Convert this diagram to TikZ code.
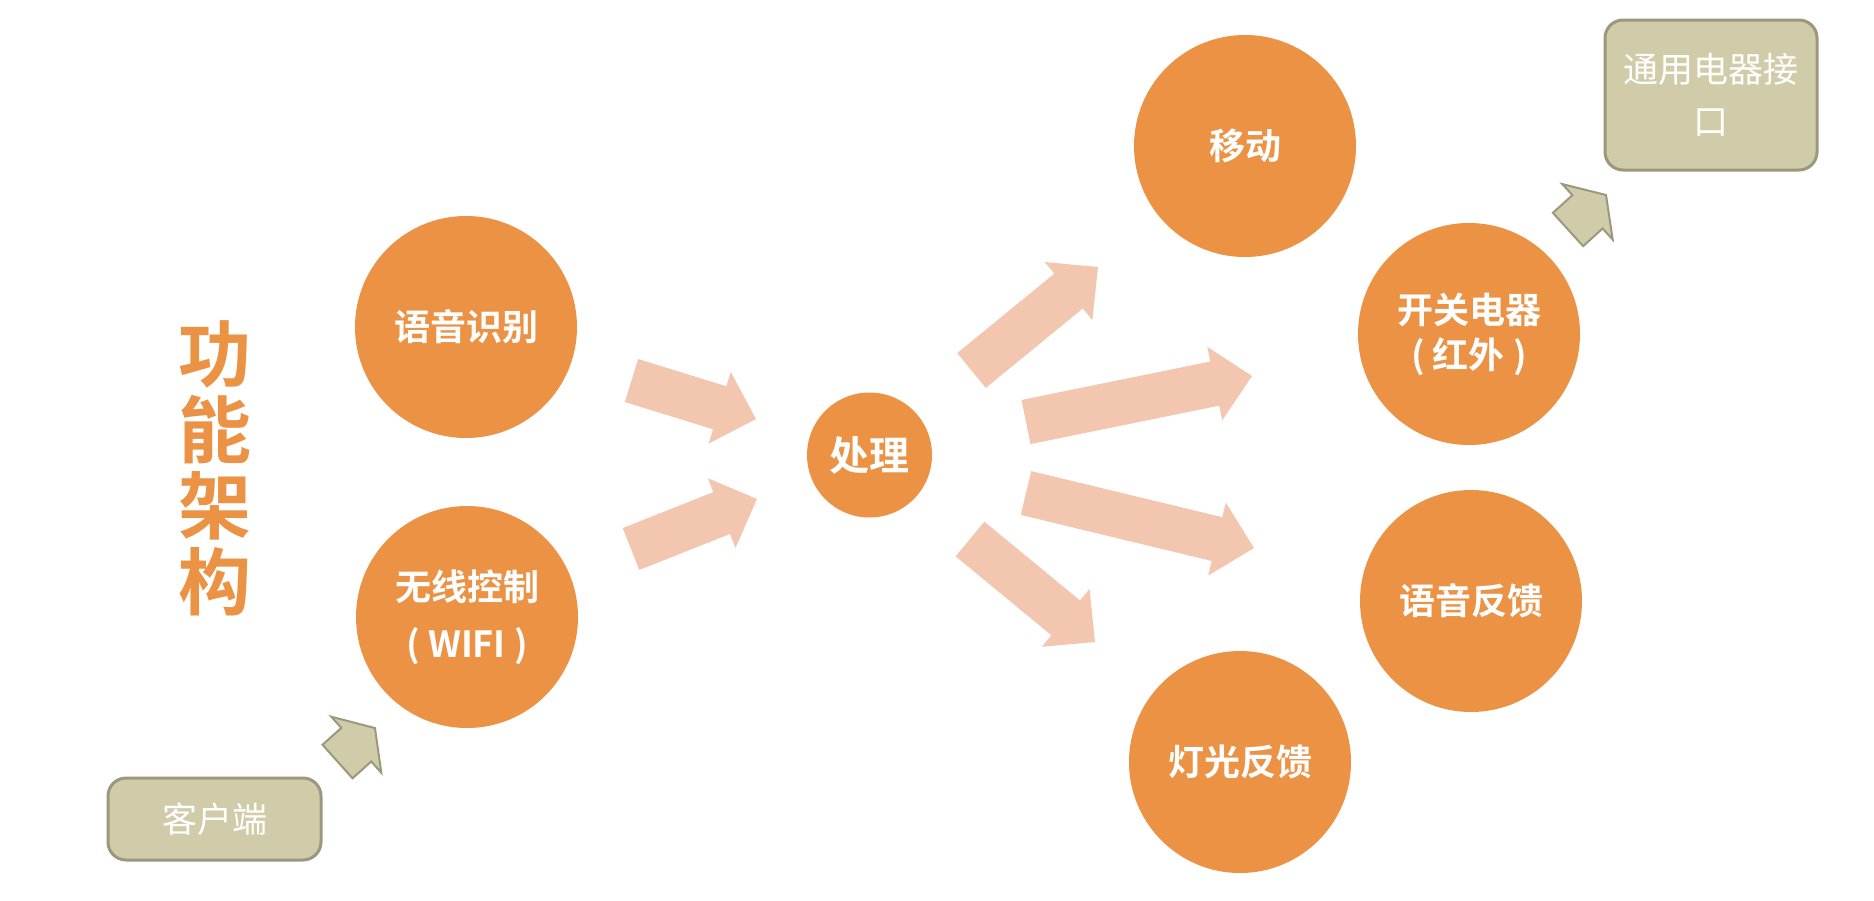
\documentclass[tikz,border=0pt]{standalone}
\usepackage{fontspec}
\newfontfamily\cjk[BoldFont={Noto Sans CJK SC Bold}]{Noto Sans CJK SC}
\usetikzlibrary{calc}
\definecolor{orng}{HTML}{EB9245}
\definecolor{salmon}{HTML}{F3C6AF}
\definecolor{tanfill}{HTML}{D0CCA9}
\definecolor{tanline}{HTML}{9B987D}
\newcommand\blockarrow[6]{%
  \pgfpointdiff{\pgfpointanchor{#2}{center}}{\pgfpointanchor{#3}{center}}%
  \pgfgetlastxy{\badx}{\bady}%
  \pgfmathsetmacro\baang{atan2(\bady,\badx)}%
  \pgfmathsetmacro\balen{veclen(\badx,\bady)}%
  \path[#1,shift={(#2)},rotate=\baang] (0,#4) -- ({\balen-#6},#4) -- ({\balen-#6},#5) -- (\balen,0) -- ({\balen-#6},-#5) -- ({\balen-#6},-#4) -- (0,-#4) -- cycle;
}
\tikzset{
  bigc/.style={circle, fill=orng, minimum size=222pt, inner sep=0pt, text=white, align=center,
    font=\cjk\bfseries\fontsize{36}{45}\selectfont},
  procc/.style={circle, fill=orng, minimum size=125pt, inner sep=0pt, text=white,
    font=\cjk\bfseries\fontsize{40}{48}\selectfont},
  tanbox/.style={draw=tanline, line width=3pt, fill=tanfill, rounded corners=18pt, inner sep=0pt,
    text=white, align=center, font=\cjk\fontsize{35}{52}\selectfont},
  salarrow/.style={fill=salmon},
  tanarrow/.style={fill=tanfill, draw=tanline, line width=2pt, line join=miter},
  titletext/.style={text=orng, align=center, font=\cjk\bfseries\fontsize{73}{76}\selectfont}
}
\begin{document}
\begin{tikzpicture}[x=1pt,y=-1pt]
\useasboundingbox (0,0) rectangle (1874,900);
\fill[white] (0,0) rectangle (1874,900);
% title
\node[titletext] (title) at (215,468) {功\\能\\架\\构};
% circles
\node[bigc] (yysb) at (466,327) {语音识别};
\node[bigc, font=\cjk\bfseries\fontsize{36}{57}\selectfont] (wxkz) at (467,617) {无线控制\\( WIFI )};
\node[procc] (cl) at (869.5,455) {处理};
\node[bigc] (yd) at (1245,146) {移动};
\node[bigc] (kg) at (1469,334) {开关电器\\( 红外 )};
\node[bigc] (yyfk) at (1471,601) {语音反馈};
\node[bigc] (dgfk) at (1240,762) {灯光反馈};
% boxes
\node[tanbox, minimum width=213pt, minimum height=82pt] (khd) at (214.5,819) {客户端};
\node[tanbox, minimum width=212pt, minimum height=150pt] (jk) at (1711,95) {通用电器接\\口};
% arrow end points
\coordinate (a1s) at (631.5,380.5); \coordinate (a1e) at (756,419);
\coordinate (a2s) at (631,549);     \coordinate (a2e) at (757,499);
\coordinate (a3s) at (971.5,370.5); \coordinate (a3e) at (1098,267);
\coordinate (a4s) at (1026,422);    \coordinate (a4e) at (1252,376);
\coordinate (a5s) at (1026,493);    \coordinate (a5e) at (1254,548);
\coordinate (a6s) at (970,539);     \coordinate (a6e) at (1095,642);
\coordinate (t1s) at (337.5,761.5); \coordinate (t1e) at (375,728);
\coordinate (t2s) at (1568,229.5);  \coordinate (t2e) at (1606,195);
% arrows
\blockarrow{salarrow}{a1s}{a1e}{22.5}{37.5}{38}
\blockarrow{salarrow}{a2s}{a2e}{22.5}{37.5}{38}
\blockarrow{salarrow}{a3s}{a3e}{22.5}{37.5}{38}
\blockarrow{salarrow}{a4s}{a4e}{22.5}{37.5}{38}
\blockarrow{salarrow}{a5s}{a5e}{22.5}{37.5}{38}
\blockarrow{salarrow}{a6s}{a6e}{22.5}{37.5}{38}
\blockarrow{tanarrow}{t1s}{t1e}{22.5}{37.5}{25}
\blockarrow{tanarrow}{t2s}{t2e}{22.5}{37.5}{25}
\end{tikzpicture}
\end{document}
